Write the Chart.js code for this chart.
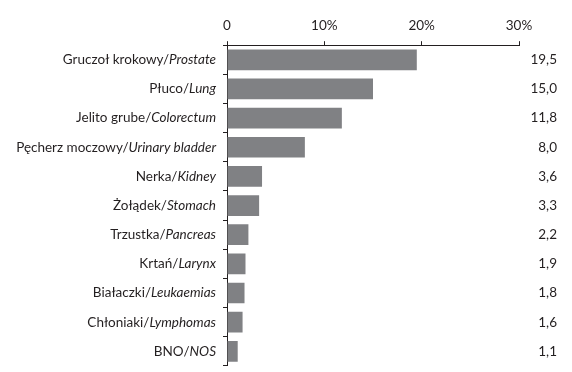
<!DOCTYPE html>
<html>
<head>
<meta charset="utf-8">
<script src="https://cdn.jsdelivr.net/npm/chart.js@4.4.1/dist/chart.umd.min.js"></script>
<style>
  html, body { margin: 0; padding: 0; background: #fff; overflow: hidden; }
  #wrap { position: relative; width: 572px; height: 378px; }
</style>
</head>
<body>
<div id="wrap"><canvas id="chart"></canvas></div>
<script>
'use strict';

// Polish name / English name (English part is drawn in italics)
const namesPl = ['Gruczoł krokowy', 'Płuco', 'Jelito grube', 'Pęcherz moczowy', 'Nerka',
    'Żołądek', 'Trzustka', 'Krtań', 'Białaczki', 'Chłoniaki', 'BNO'];
const namesEn = ['Prostate', 'Lung', 'Colorectum', 'Urinary bladder', 'Kidney',
    'Stomach', 'Pancreas', 'Larynx', 'Leukaemias', 'Lymphomas', 'NOS'];
const shares = [19.5, 15.0, 11.8, 8.0, 3.6, 3.3, 2.2, 1.9, 1.8, 1.6, 1.1];
const xTicks = [0, 10, 20, 30];

const labels = namesPl.map((pl, i) => pl + '/' + namesEn[i]);
const valueLabels = shares.map(v => v.toFixed(1).replace('.', ','));

const FONT = 'Lato';
const FONT_SIZE = 13.5;
const INK = '#231f20';

/**
 * Draws the left category names: Polish part upright, English part italic.
 */
const mixedLabels = {
    id: 'mixedLabels',
    afterDraw(chart) {
        const ctx = chart.ctx;
        const y = chart.scales.y;
        const xr = chart.chartArea.left - 11;
        ctx.save();
        ctx.fillStyle = INK;
        ctx.textBaseline = 'middle';
        ctx.textAlign = 'right';
        namesPl.forEach((pl, i) => {
            const py = y.getPixelForValue(i);
            ctx.font = 'italic ' + FONT_SIZE + 'px ' + FONT;
            ctx.fillText(namesEn[i], xr, py);
            const w = ctx.measureText(namesEn[i]).width;
            ctx.font = FONT_SIZE + 'px ' + FONT;
            ctx.fillText(pl + '/', xr - w, py);
        });
        ctx.restore();
    }
};

new Chart(document.getElementById('chart'), {
    type: 'bar',
    data: {
        labels: labels,
        datasets: [{
            data: shares,
            backgroundColor: '#808184',
            borderWidth: 0,
            barPercentage: 0.71,
            categoryPercentage: 1.0
        }]
    },
    plugins: [mixedLabels],
    options: {
        indexAxis: 'y',
        responsive: true,
        maintainAspectRatio: false,
        animation: false,
        layout: { padding: { top: 11, right: 15, bottom: 2, left: 0 } },
        plugins: {
            legend: { display: false },
            tooltip: { enabled: false }
        },
        scales: {
            x: {
                position: 'top',
                min: 0,
                max: 30,
                afterBuildTicks: (s) => { s.ticks = xTicks.map(v => ({ value: v })); },
                ticks: {
                    callback: (v) => v === 0 ? '0' : v + '%',
                    color: INK,
                    font: { family: FONT, size: FONT_SIZE },
                    padding: 7
                },
                grid: { drawOnChartArea: false, tickLength: 4, color: INK },
                border: { color: INK, width: 1 }
            },
            y: {
                position: 'left',
                afterFit: (s) => { s.width = 227; },
                ticks: { display: false },
                grid: { drawOnChartArea: false, offset: true, tickLength: 4, color: INK },
                border: { color: INK, width: 1 }
            },
            yr: {
                type: 'category',
                position: 'right',
                labels: valueLabels,
                offset: true,
                afterFit: (s) => { s.width = 38; },
                ticks: {
                    crossAlign: 'far',
                    color: INK,
                    font: { family: FONT, size: FONT_SIZE },
                    padding: 4
                },
                grid: { display: false },
                border: { display: false }
            }
        }
    }
});
</script>
</body>
</html>
